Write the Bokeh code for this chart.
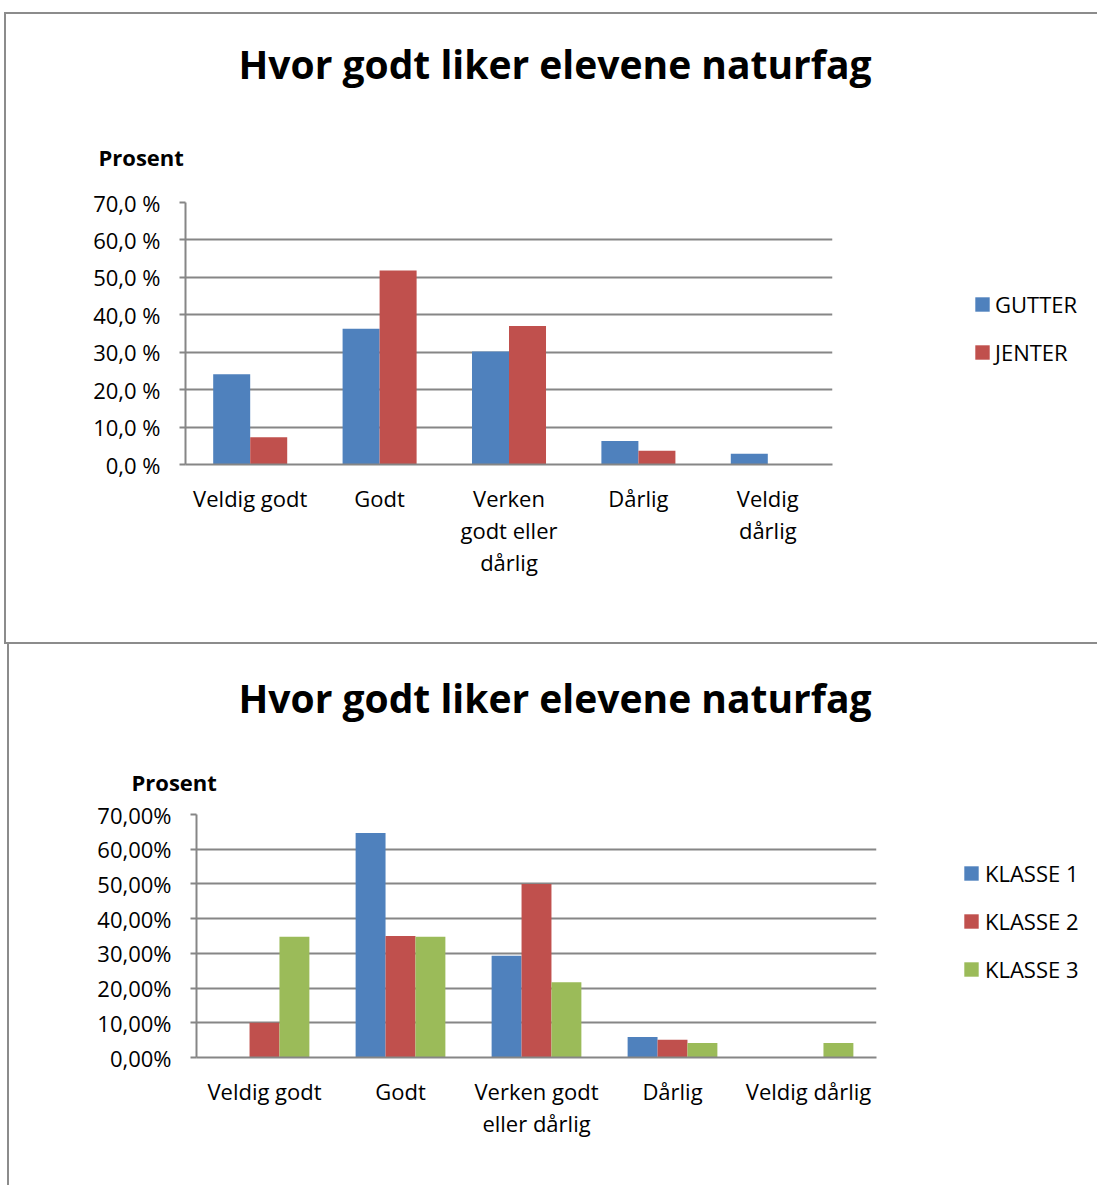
from bokeh.plotting import figure
from bokeh.models import (FactorRange, Range1d, FixedTicker, Legend, LegendItem, Title,
                          ColumnDataSource, Spacer)
from bokeh.transform import dodge
from bokeh.layouts import column, row
from bokeh.embed import file_html
from bokeh.resources import INLINE

# ---------------- data ----------------
categories_1 = ["Veldig godt", "Godt", "Verken\ngodt eller\ndårlig", "Dårlig", "Veldig\ndårlig"]
categories_2 = ["Veldig godt", "Godt", "Verken godt\neller dårlig", "Dårlig", "Veldig dårlig"]

gutter = [24.1, 36.3, 30.2, 6.3, 2.9]
jenter = [7.3, 51.8, 37.0, 3.7, 0.0]

klasse1 = [0.0, 64.7, 29.3, 5.9, 0.0]
klasse2 = [10.0, 35.0, 50.0, 5.1, 0.0]
klasse3 = [34.8, 34.8, 21.7, 4.2, 4.2]

series_1 = ["GUTTER", "JENTER"]
series_2 = ["KLASSE 1", "KLASSE 2", "KLASSE 3"]

y_ticks = [0, 10, 20, 30, 40, 50, 60, 70]
y_labels_1 = ["0,0 %", "10,0 %", "20,0 %", "30,0 %", "40,0 %", "50,0 %", "60,0 %", "70,0 %"]
y_labels_2 = ["0,00%", "10,00%", "20,00%", "30,00%", "40,00%", "50,00%", "60,00%", "70,00%"]

title_text = "Hvor godt liker elevene naturfag"
ylabel_text = "Prosent"

BLUE, RED, GREEN = "#4F81BD", "#C0504D", "#9BBB59"
GRID = "#868686"
BORDER = "2px solid #8c8c8c"
FONT = "Open Sans"
NAN = float("nan")


def style(p, ylabels):
    p.outline_line_color = None
    p.background_fill_color = "white"
    p.border_fill_color = "white"
    p.xgrid.grid_line_color = None
    p.ygrid.grid_line_color = GRID
    p.ygrid.grid_line_width = 2
    p.yaxis.ticker = FixedTicker(ticks=y_ticks)
    p.yaxis.major_label_overrides = {t: l for t, l in zip(y_ticks, ylabels)}
    for ax in (p.xaxis, p.yaxis):
        ax.axis_line_color = GRID
        ax.axis_line_width = 2
        ax.major_tick_line_color = GRID
        ax.major_tick_line_width = 2
        ax.minor_tick_line_color = None
        ax.major_label_text_font = FONT
        ax.major_label_text_color = "black"
    p.yaxis.major_label_text_font_size = "22px"
    p.xaxis.major_label_text_font_size = "22px"
    p.yaxis.major_tick_out = 6
    p.yaxis.major_tick_in = 0
    p.yaxis.major_label_standoff = 19
    p.xaxis.major_tick_out = 0
    p.xaxis.major_tick_in = 0
    p.xaxis.major_label_standoff = 18
    p.xaxis.major_label_text_line_height = 1.08
    p.xaxis.major_label_orientation = "horizontal"


def add_titles(p, prosent_offset, prosent_standoff, title_offset, title_standoff):
    p.add_layout(Title(text=ylabel_text, align="left", offset=prosent_offset,
                       standoff=prosent_standoff, text_font=FONT, text_font_style="bold",
                       text_font_size="22px", text_color="black"), "above")
    p.add_layout(Title(text=title_text, align="left", offset=title_offset,
                       standoff=title_standoff, text_font=FONT, text_font_style="bold",
                       text_font_size="39px", text_color="black"), "above")


def legend_figure(fw, fh, top, bottom, labels, colors, loc, standoff):
    lf = figure(frame_width=fw, frame_height=fh, x_range=Range1d(0, 1), y_range=Range1d(0, 1),
                output_backend="svg", toolbar_location=None, title=None,
                x_axis_location=None, y_axis_location=None,
                min_border_left=0, min_border_right=0, min_border_top=top, min_border_bottom=bottom)
    lf.outline_line_color = None
    lf.grid.grid_line_color = None
    lf.background_fill_color = "white"
    lf.border_fill_color = "white"
    # legend proxies (no visible mark: NaN placeholders)
    rs = [lf.vbar(x=[NAN], top=[NAN], width=0.1, fill_color=c, line_color=None) for c in colors]
    leg = Legend(items=[LegendItem(label=l, renderers=[r]) for l, r in zip(labels, rs)],
                 location=loc, orientation="vertical", padding=0, margin=0, spacing=18,
                 glyph_width=18, glyph_height=18, label_standoff=standoff, label_height=20,
                 label_text_font=FONT, label_text_font_size="22px", label_text_color="black",
                 border_line_color=None, background_fill_alpha=0)
    lf.add_layout(leg, "center")
    return lf


# ---------------- chart 1 ----------------
src1 = ColumnDataSource(dict(cat=categories_1, gutter=gutter, jenter=jenter))
p1 = figure(frame_width=647, frame_height=262, x_range=FactorRange(*categories_1),
            y_range=Range1d(0, 70), output_backend="svg", toolbar_location=None, title=None,
            min_border_left=179, min_border_right=100, min_border_top=0, min_border_bottom=178)
w1 = 0.286
p1.vbar(x=dodge("cat", -w1 / 2, range=p1.x_range), top="gutter", width=w1, source=src1,
        fill_color=BLUE, line_color=None)
p1.vbar(x=dodge("cat", w1 / 2, range=p1.x_range), top="jenter", width=w1, source=src1,
        fill_color=RED, line_color=None)
style(p1, y_labels_1)
add_titles(p1, -87, 61, 53, 39)
leg1 = legend_figure(165, 262, 188, 178, series_1, [BLUE, RED], (41, 97), 4)
row1 = row(p1, leg1, spacing=0,
           styles={"border-left": BORDER, "border-top": BORDER, "border-bottom": BORDER})

# ---------------- chart 2 ----------------
src2 = ColumnDataSource(dict(cat=categories_2, k1=klasse1, k2=klasse2, k3=klasse3))
p2 = figure(frame_width=680, frame_height=243, x_range=FactorRange(*categories_2),
            y_range=Range1d(0, 70), output_backend="svg", toolbar_location=None, title=None,
            min_border_left=187, min_border_right=60, min_border_top=0, min_border_bottom=128)
w2 = 0.22
p2.vbar(x=dodge("cat", -w2, range=p2.x_range), top="k1", width=w2, source=src2,
        fill_color=BLUE, line_color=None)
p2.vbar(x=dodge("cat", 0, range=p2.x_range), top="k2", width=w2, source=src2,
        fill_color=RED, line_color=None)
p2.vbar(x=dodge("cat", w2, range=p2.x_range), top="k3", width=w2, source=src2,
        fill_color=GREEN, line_color=None)
style(p2, y_labels_2)
add_titles(p2, -65, 36, 42, 45)
leg2 = legend_figure(161, 243, 170, 128, series_2, [BLUE, RED, GREEN], (26, 73), 5)
row2 = row(p2, leg2, spacing=0, styles={"border-left": BORDER})

layout = column(Spacer(height=12),
                row(Spacer(width=4), row1, spacing=0),
                row(Spacer(width=7), row2, spacing=0),
                spacing=0)
open("out.html", "w").write(file_html(layout, INLINE))
